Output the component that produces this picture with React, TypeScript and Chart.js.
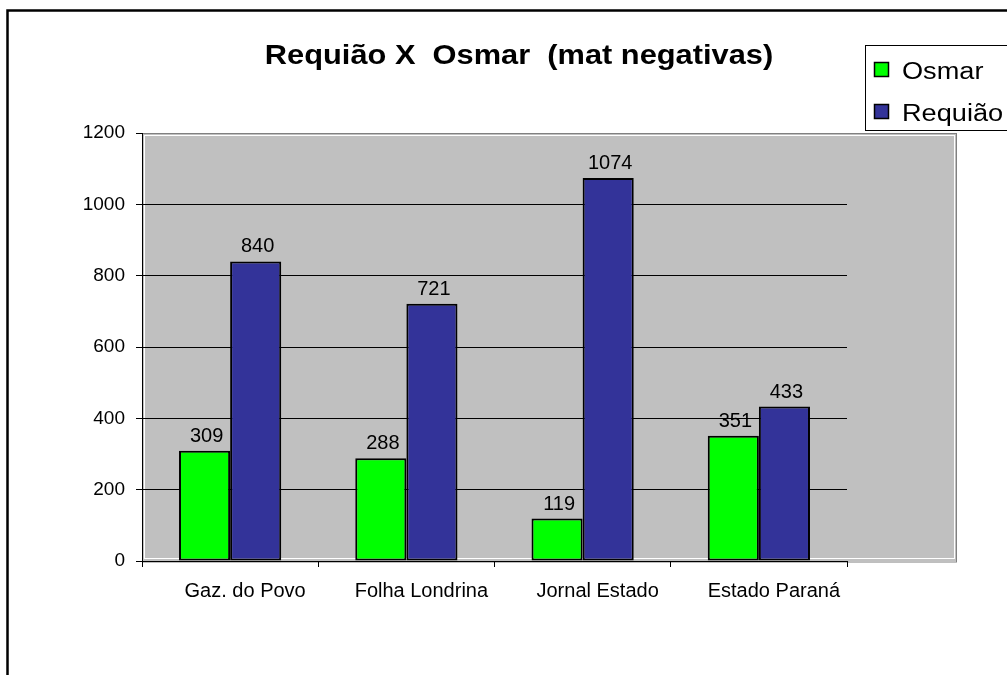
import { useEffect, useRef } from 'react';
import { Chart, registerables } from 'chart.js';

Chart.register(...registerables);

const categories = ['Gaz. do Povo', 'Folha Londrina', 'Jornal Estado', 'Estado Paraná'];
const osmarValues = [309, 288, 119, 351];
const requiaoValues = [840, 721, 1074, 433];
const seriesNames = ['Osmar', 'Requião'];
const seriesColors = ['#00FF00', '#333399'];
const chartTitle = 'Requião X  Osmar  (mat negativas)';
const yMin = 0;
const yMax = 1200;
const yStep = 200;

const FONT = '"Liberation Sans", Arial, sans-serif';

const plotBackground = {
  id: 'plotBackground',
  beforeDraw(chart: any) {
    const { ctx, chartArea } = chart;
    const l = chartArea.left;
    const t = chartArea.top;
    const r = chartArea.right + 110;
    const b = chartArea.bottom;
    ctx.save();
    ctx.fillStyle = '#C0C0C0';
    ctx.fillRect(l, t, r - l, b - t);
    ctx.strokeStyle = '#FFFFFF';
    ctx.lineWidth = 1;
    ctx.strokeRect(l + 2.5, t + 2.5, r - l - 5, b - t - 5);
    ctx.strokeStyle = '#808080';
    ctx.strokeRect(l + 0.5, t + 0.5, r - l - 1, b - t + 0.5);
    ctx.restore();
  },
};

const decorations = {
  id: 'decorations',
  afterDatasetsDraw(chart: any) {
    const { ctx } = chart;
    ctx.save();
    ctx.font = `20px ${FONT}`;
    ctx.fillStyle = '#000';
    ctx.textAlign = 'center';
    ctx.textBaseline = 'alphabetic';
    chart.data.datasets.forEach((ds: any, di: number) => {
      const meta = chart.getDatasetMeta(di);
      meta.data.forEach((bar: any, i: number) => {
        ctx.fillText(String(ds.data[i]), bar.x + 2, bar.y - 9);
      });
    });
    ctx.restore();
  },
  afterDraw(chart: any) {
    const { ctx } = chart;
    ctx.save();
    // outer frame
    ctx.strokeStyle = '#000';
    ctx.lineWidth = 2.5;
    ctx.strokeRect(7.5, 10.5, 1200, 1000);
    // title
    ctx.fillStyle = '#000';
    ctx.font = `bold 28px ${FONT}`;
    ctx.textAlign = 'center';
    ctx.textBaseline = 'alphabetic';
    ctx.save();
    ctx.translate(519, 64);
    ctx.scale(1.1, 1);
    ctx.fillText(chartTitle, 0, 0);
    ctx.restore();
    // legend
    ctx.lineWidth = 1;
    ctx.strokeStyle = '#000';
    ctx.fillStyle = '#FFFFFF';
    ctx.fillRect(865.5, 45.5, 300, 85);
    ctx.strokeRect(865.5, 45.5, 300, 85);
    const rowsY = [62, 104];
    seriesNames.forEach((name, i) => {
      const y = rowsY[i];
      ctx.fillStyle = seriesColors[i];
      ctx.fillRect(874.5, y + 0.5, 14, 14);
      ctx.lineWidth = 1.5;
      ctx.strokeStyle = '#000';
      ctx.strokeRect(874.5, y + 0.5, 14, 14);
      ctx.fillStyle = '#000';
      ctx.font = `23px ${FONT}`;
      ctx.textAlign = 'left';
      ctx.save();
      ctx.translate(902, y + 17);
      ctx.scale(1.18, 1);
      ctx.fillText(name, 0, 0);
      ctx.restore();
    });
    ctx.restore();
  },
};

export default function App() {
  const ref = useRef<HTMLCanvasElement>(null);

  useEffect(() => {
    const canvas = ref.current;
    if (!canvas) return;
    const chart = new Chart(canvas, {
      type: 'bar',
      data: {
        labels: categories,
        datasets: [
          {
            label: seriesNames[0],
            data: osmarValues,
            backgroundColor: seriesColors[0],
            borderColor: '#000',
            borderWidth: 2,
            borderSkipped: false,
          },
          {
            label: seriesNames[1],
            data: requiaoValues,
            backgroundColor: seriesColors[1],
            borderColor: '#000',
            borderWidth: 2,
            borderSkipped: false,
          },
        ],
      },
      options: {
        responsive: false,
        animation: false,
        devicePixelRatio: 1,
        layout: { padding: { left: 0, top: 133, right: 160, bottom: 0 } },
        datasets: { bar: { categoryPercentage: 0.58, barPercentage: 1 } },
        plugins: {
          legend: { display: false },
          title: { display: false },
          tooltip: { enabled: false },
        },
        scales: {
          x: {
            offset: true,
            grid: {
              offset: true,
              drawOnChartArea: false,
              drawTicks: true,
              tickLength: 6,
              color: '#000',
              tickColor: '#000',
            },
            border: { display: true, color: '#000', width: 1 },
            ticks: {
              color: '#000',
              font: { family: FONT, size: 20 },
              padding: 12,
              labelOffset: 15,
              maxRotation: 0,
              autoSkip: false,
            },
            afterFit(scale: any) {
              scale.height = 114;
              scale.paddingLeft = 0;
              scale.paddingRight = 0;
            },
          },
          y: {
            min: yMin,
            max: yMax,
            ticks: {
              stepSize: yStep,
              color: '#000',
              font: { family: FONT, size: 19 },
              padding: 11,
              callback: (v: any) => String(v),
            },
            grid: {
              color: (c: any) => (c.tick && c.tick.value === yMax ? '#808080' : '#000'),
              tickColor: '#000',
              tickLength: 6,
              lineWidth: 1,
            },
            border: { display: true, color: '#000', width: 1 },
            afterFit(scale: any) {
              scale.width = 142;
              scale.paddingTop = 0;
              scale.paddingBottom = 0;
            },
          },
        },
      },
      plugins: [plotBackground, decorations],
    });
    return () => chart.destroy();
  }, []);

  return (
    <div style={{ position: 'fixed', left: 0, top: 0, width: 1007, height: 675, background: '#fff' }}>
      <canvas ref={ref} width={1007} height={675} style={{ display: 'block', width: 1007, height: 675 }} />
    </div>
  );
}
